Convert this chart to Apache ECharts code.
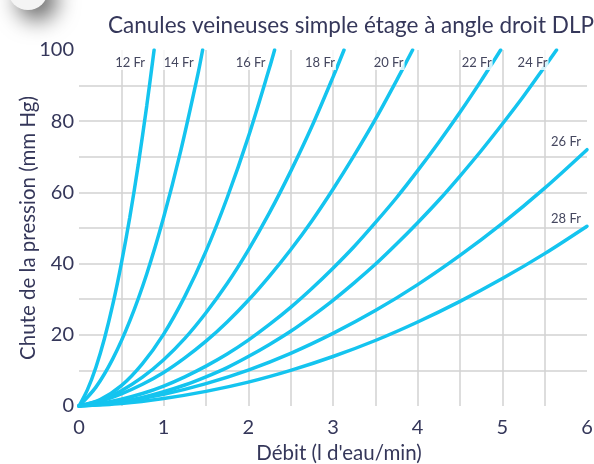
<!DOCTYPE html>
<html>
<head>
<meta charset="utf-8">
<script src="https://cdn.jsdelivr.net/npm/echarts@6/dist/echarts.min.js"></script>
<style>
html,body{margin:0;padding:0;background:#fff;}
#chart{width:594px;height:464px;}
</style>
</head>
<body>
<div id="chart"></div>
<script>
// ---- Data ----
const titleText = "Canules veineuses simple étage à angle droit DLP";
const xAxisName = "Débit (l d'eau/min)";
const yAxisName = "Chute de la pression (mm Hg)";
const xTickLabels = ["0", "1", "2", "3", "4", "5", "6"];
const yTickLabels = ["0", "20", "40", "60", "80", "100"];

const seriesNames = ["12 Fr", "14 Fr", "16 Fr", "18 Fr", "20 Fr", "22 Fr", "24 Fr", "26 Fr", "28 Fr"];

const flow12 = [0, 0.1, 0.2, 0.3, 0.4, 0.5, 0.6, 0.7, 0.8, 0.887];
const drop12 = [0, 4.6, 10.9, 18.9, 28.6, 40.0, 53.0, 67.8, 84.3, 100];

const flow14 = [0, 0.2, 0.4, 0.6, 0.8, 1.0, 1.2, 1.4, 1.46];
const drop14 = [0, 5.3, 13.3, 23.9, 37.1, 53.0, 71.5, 92.7, 100];

const flow16 = [0, 0.25, 0.5, 0.75, 1.0, 1.25, 1.5, 1.75, 2.0, 2.25, 2.31];
const drop16 = [0, 1.8, 5.7, 11.9, 20.2, 30.8, 43.5, 58.5, 75.6, 95.0, 100];

const flow18 = [0, 0.25, 0.5, 0.75, 1.0, 1.25, 1.5, 1.75, 2.0, 2.25, 2.5, 2.75, 3.0, 3.13];
const drop18 = [0, 1.6, 4.3, 8.1, 13.0, 19.0, 26.2, 34.4, 43.8, 54.3, 65.9, 78.5, 92.4, 100];

const flow20 = [0, 0.25, 0.5, 0.75, 1.0, 1.25, 1.5, 1.75, 2.0, 2.25, 2.5, 2.75, 3.0, 3.25, 3.5, 3.75, 3.94];
const drop20 = [0, 1.3, 3.4, 6.1, 9.4, 13.5, 18.2, 23.6, 29.7, 36.5, 43.9, 52.0, 60.9, 70.4, 80.5, 91.4, 100];

const flow22 = [0, 0.25, 0.5, 0.75, 1.0, 1.25, 1.5, 1.75, 2.0, 2.25, 2.5, 2.75, 3.0, 3.25, 3.5, 3.75, 4.0, 4.25, 4.5, 4.75, 4.98];
const drop22 = [0, 0.7, 1.9, 3.5, 5.6, 8.2, 11.2, 14.6, 18.5, 22.9, 27.7, 33.0, 38.7, 44.8, 51.5, 58.5, 66.1, 74.1, 82.5, 91.4, 100];

const flow24 = [0, 0.25, 0.5, 0.75, 1.0, 1.25, 1.5, 1.75, 2.0, 2.25, 2.5, 2.75, 3.0, 3.25, 3.5, 3.75, 4.0, 4.25, 4.5, 4.75, 5.0, 5.25, 5.5, 5.64];
const drop24 = [0, 0.4, 1.2, 2.4, 4.0, 5.9, 8.2, 10.8, 13.9, 17.3, 21.0, 25.2, 29.7, 34.6, 39.8, 45.5, 51.5, 57.8, 64.6, 71.7, 79.2, 87.0, 95.3, 100];

const flow26 = [0, 0.5, 1.0, 1.5, 2.0, 2.5, 3.0, 3.5, 4.0, 4.5, 5.0, 5.5, 6.0];
const drop26 = [0, 1.2, 3.3, 6.3, 10.1, 14.8, 20.4, 26.8, 34.1, 42.3, 51.3, 61.2, 72.0];

const flow28 = [0, 0.5, 1.0, 1.5, 2.0, 2.5, 3.0, 3.5, 4.0, 4.5, 5.0, 5.5, 6.0];
const drop28 = [0, 0.7, 2.1, 4.1, 6.7, 10.0, 13.9, 18.4, 23.6, 29.4, 35.8, 42.8, 50.5];

const flows = [flow12, flow14, flow16, flow18, flow20, flow22, flow24, flow26, flow28];
const drops = [drop12, drop14, drop16, drop18, drop20, drop22, drop24, drop26, drop28];

// ---- Styling ----
const FONT = "Lato";
const TEXT = "#35375a";
const LINE = "#14c4ef";
const GRID = "#d2d2d2";

const series = seriesNames.map(function (name, i) {
  const data = flows[i].map(function (x, j) { return [x, drops[i][j]]; });
  const sideLabel = (name === "26 Fr" || name === "28 Fr");
  return {
    name: name,
    type: "line",
    data: data,
    smooth: 0.3,
    showSymbol: false,
    symbol: "none",
    lineStyle: { color: LINE, width: 3.5, cap: "round" },
    z: 3,
    endLabel: {
      show: true,
      formatter: name,
      distance: sideLabel ? -5 : -8,
      align: "right",
      verticalAlign: sideLabel ? "bottom" : "top",
      padding: sideLabel ? [1, 1, 1, 1] : [6, 1, 1, 1],
      backgroundColor: "rgba(255,255,255,0.8)",
      color: "#45475f",
      fontFamily: FONT,
      fontSize: 13
    },
    animation: false
  };
});

const chart = echarts.init(document.getElementById("chart"), null, { renderer: "canvas" });
chart.setOption({
  backgroundColor: "#ffffff",
  animation: false,
  title: {
    text: titleText,
    left: 346,
    top: 9,
    textAlign: "center",
    textStyle: { color: TEXT, fontFamily: FONT, fontSize: 22.5, fontWeight: "normal" }
  },
  graphic: [{
    type: "circle",
    shape: { cx: 28, cy: -10, r: 20 },
    style: { fill: "#f4f4f4", shadowBlur: 22, shadowOffsetX: 9, shadowOffsetY: 10, shadowColor: "rgba(0,0,0,0.6)" },
    z: 10
  }],
  grid: { left: 79, right: 7, top: 50, bottom: 58, containLabel: false, outerBoundsMode: "none" },
  xAxis: {
    type: "value",
    min: 0, max: 6, interval: 0.5,
    name: xAxisName,
    nameLocation: "middle",
    nameGap: 37,
    nameMoveOverlap: false,
    nameTextStyle: { color: TEXT, fontFamily: FONT, fontSize: 20.5, padding: [0, 0, 0, 12] },
    axisLine: { show: false },
    axisTick: { show: false },
    axisLabel: {
      color: TEXT, fontFamily: FONT, fontSize: 20, margin: 12,
      formatter: function (v) { return (v % 1 === 0) ? xTickLabels[v] : ""; }
    },
    splitLine: { show: true, showMinLine: false, showMaxLine: false, lineStyle: { color: GRID, width: 1.5 } }
  },
  yAxis: {
    type: "value",
    min: 0, max: 100, interval: 10,
    name: yAxisName,
    nameLocation: "middle",
    nameGap: 40,
    nameRotate: 90,
    nameMoveOverlap: false,
    nameTextStyle: { color: TEXT, fontFamily: FONT, fontSize: 20.5, padding: [0, 0, 0, 0] },
    axisLine: { show: false },
    axisTick: { show: false },
    axisLabel: {
      color: TEXT, fontFamily: FONT, fontSize: 20, margin: 5,
      formatter: function (v) { return (v % 20 === 0) ? yTickLabels[v / 20] : ""; }
    },
    splitLine: { show: true, showMinLine: false, showMaxLine: false, lineStyle: { color: GRID, width: 1.5 } }
  },
  series: series
});
</script>
</body>
</html>
